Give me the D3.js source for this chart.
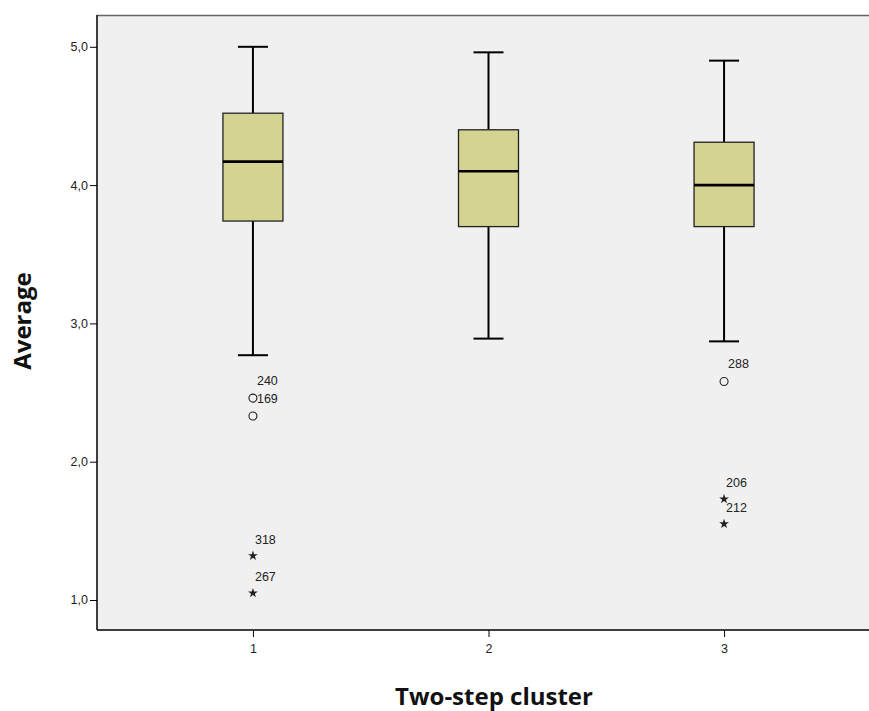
<!DOCTYPE html>
<html><head><meta charset="utf-8">
<script src="https://cdn.jsdelivr.net/npm/d3@7"></script>
<style>body{margin:0;background:#fff}svg{display:block}</style>
</head><body>
<svg id="chart" width="869" height="711"></svg>
<script>
const categories = ["1", "2", "3"];
const q1 = [3.74, 3.70, 3.70];
const median = [4.17, 4.10, 4.00];
const q3 = [4.52, 4.40, 4.31];
const whiskerLow = [2.77, 2.89, 2.87];
const whiskerHigh = [5.00, 4.96, 4.90];
const outlierCat = ["1", "1", "3"];
const outlierVal = [2.46, 2.33, 2.58];
const outlierLabel = ["240", "169", "288"];
const extremeCat = ["1", "1", "3", "3"];
const extremeVal = [1.32, 1.05, 1.73, 1.55];
const extremeLabel = ["318", "267", "206", "212"];
const yTicks = [1, 2, 3, 4, 5];

(function () {
const svg = d3.select("#chart");
const pLeft = 97, pTop = 15, pBottom = 630, pRight = 869;
const sans = "Liberation Sans, Arial, sans-serif";

const x = d3.scalePoint().domain(categories).range([pLeft, 880]).padding(0.662);
const y = d3.scaleLinear().domain([0.783, 5.23]).range([pBottom, pTop]);

svg.append("rect").attr("x", pLeft).attr("y", pTop).attr("width", pRight - pLeft).attr("height", pBottom - pTop)
  .attr("fill", "#f0f0f0");
svg.append("line").attr("x1", pLeft).attr("x2", pRight).attr("y1", pTop + 0.5).attr("y2", pTop + 0.5)
  .attr("stroke", "#666").attr("stroke-width", 1.5);

const boxW = 60, capW = 30;
const g = svg.append("g");
categories.forEach((c, i) => {
  const cx = x(c);
  g.append("line").attr("x1", cx).attr("x2", cx).attr("y1", y(whiskerHigh[i])).attr("y2", y(q3[i]))
    .attr("stroke", "#000").attr("stroke-width", 2);
  g.append("line").attr("x1", cx).attr("x2", cx).attr("y1", y(q1[i])).attr("y2", y(whiskerLow[i]))
    .attr("stroke", "#000").attr("stroke-width", 2);
  g.append("line").attr("x1", cx - capW / 2).attr("x2", cx + capW / 2).attr("y1", y(whiskerHigh[i])).attr("y2", y(whiskerHigh[i]))
    .attr("stroke", "#000").attr("stroke-width", 2);
  g.append("line").attr("x1", cx - capW / 2).attr("x2", cx + capW / 2).attr("y1", y(whiskerLow[i])).attr("y2", y(whiskerLow[i]))
    .attr("stroke", "#000").attr("stroke-width", 2);
  g.append("rect").attr("x", cx - boxW / 2).attr("y", y(q3[i])).attr("width", boxW).attr("height", y(q1[i]) - y(q3[i]))
    .attr("fill", "#d5d392").attr("stroke", "#222").attr("stroke-width", 1.3);
  g.append("line").attr("x1", cx - boxW / 2).attr("x2", cx + boxW / 2).attr("y1", y(median[i])).attr("y2", y(median[i]))
    .attr("stroke", "#000").attr("stroke-width", 2.6);
});

outlierVal.forEach((v, i) => {
  const cx = x(outlierCat[i]), cy = y(v);
  g.append("circle").attr("cx", cx).attr("cy", cy).attr("r", 4).attr("fill", "none").attr("stroke", "#222").attr("stroke-width", 1.1);
  g.append("text").attr("x", cx + 4).attr("y", cy - 13).attr("font-family", sans)
    .attr("font-size", 12.5).attr("fill", "#222").text(outlierLabel[i]);
});
const star = d3.symbol().type(d3.symbolStar).size(30);
extremeVal.forEach((v, i) => {
  const cx = x(extremeCat[i]), cy = y(v);
  g.append("path").attr("d", star()).attr("transform", `translate(${cx},${cy})`).attr("fill", "#222");
  g.append("text").attr("x", cx + 2).attr("y", cy - 12).attr("font-family", sans)
    .attr("font-size", 12.5).attr("fill", "#222").text(extremeLabel[i]);
});

const yAxis = d3.axisLeft(y).tickValues(yTicks).tickSize(7).tickPadding(2)
  .tickFormat(d => d3.format(".1f")(d).replace(".", ","));
const ya = svg.append("g").attr("transform", `translate(${pLeft},0)`).call(yAxis);
ya.select(".domain").attr("d", `M0,${pTop}V${pBottom}`).attr("stroke", "#000").attr("stroke-width", 1.5);
ya.selectAll(".tick line").attr("stroke", "#000");
ya.selectAll(".tick text").attr("font-family", sans).attr("font-size", 12.5).attr("fill", "#222");

const xAxis = d3.axisBottom(x).tickSize(7).tickPadding(7);
const xa = svg.append("g").attr("transform", `translate(0,${pBottom})`).call(xAxis);
xa.select(".domain").attr("d", `M${pLeft},0H${pRight}`).attr("stroke", "#000").attr("stroke-width", 1.5);
xa.selectAll(".tick line").attr("stroke", "#000");
xa.selectAll(".tick text").attr("font-family", sans).attr("font-size", 12.5).attr("fill", "#222");

svg.append("text").attr("x", 494).attr("y", 705).attr("text-anchor", "middle")
  .attr("font-family", "Open Sans, Lato, sans-serif").attr("font-weight", "bold").attr("font-size", 24)
  .attr("fill", "#111").text("Two-step cluster");
svg.append("text").attr("transform", "translate(31,321) rotate(-90)").attr("text-anchor", "middle")
  .attr("font-family", "Open Sans, Lato, sans-serif").attr("font-weight", "bold").attr("font-size", 24)
  .attr("fill", "#111").text("Average");
})();
</script>
</body></html>
